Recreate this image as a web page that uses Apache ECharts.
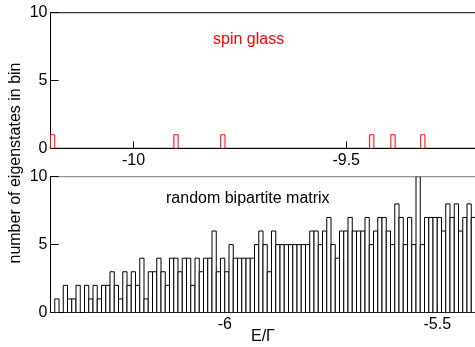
<!DOCTYPE html>
<html>
<head>
<meta charset="utf-8">
<title>eigenstate histograms</title>
<script src="https://cdn.jsdelivr.net/npm/echarts@6/dist/echarts.min.js"></script>
<style>
  html, body { margin: 0; padding: 0; background: #fff; }
  #chart { width: 475px; height: 347px; }
</style>
</head>
<body>
<div id="chart"></div>
<script>
// bin width used by both histograms
const binWidth = 0.01;

// spin glass: left edges of the occupied bins and their counts
const spinGlassEdges = [-10.195, -9.905, -9.795, -9.445, -9.395, -9.325];
const spinGlassCounts = [1, 1, 1, 1, 1, 1];

// random bipartite matrix: counts per bin starting at bipartiteStart
const bipartiteStart = -6.41;
const bipartiteCounts = [
  0, 1, 0, 2, 1, 1, 2, 0, 2, 1,
  2, 1, 2, 2, 3, 2, 1, 3, 2, 3,
  2, 4, 1, 3, 3, 4, 3, 2, 4, 4,
  3, 4, 4, 2, 4, 3, 4, 4, 6, 3,
  4, 3, 5, 4, 4, 4, 4, 4, 5, 6,
  5, 3, 6, 5, 5, 5, 5, 5, 5, 5,
  5, 6, 6, 5, 6, 7, 5, 4, 6, 6,
  7, 6, 6, 6, 7, 5, 6, 7, 7, 6,
  5, 8, 7, 5, 7, 5, 10, 5, 7, 7,
  7, 7, 6, 8, 7, 8, 6, 7, 8, 7
];

const topTicks = [-10, -9.5];
const bottomTicks = [-6, -5.5];

const font = "'Liberation Sans', Arial, Helvetica, sans-serif";

const spinData = spinGlassEdges.map((x, i) => [x, x + binWidth, spinGlassCounts[i]]);
const bipartiteData = bipartiteCounts.map((c, i) => {
  const x0 = bipartiteStart + i * binWidth;
  return [x0, x0 + binWidth, c];
});

function histRender(stroke) {
  return function (params, api) {
    const p0 = api.coord([api.value(0), 0]);
    const p1 = api.coord([api.value(1), api.value(2)]);
    return {
      type: "rect",
      shape: { x: p0[0], y: p1[1], width: p1[0] - p0[0], height: p0[1] - p1[1] },
      style: { fill: "#fff", stroke: stroke, lineWidth: 1 },
    };
  };
}

function xAxisFor(gridIndex, min, max, ticks) {
  return {
    type: "value",
    gridIndex,
    min,
    max,
    axisLine: { show: true, onZero: false, lineStyle: { color: "#000", width: 1 } },
    axisTick: { show: true, inside: true, length: 7, customValues: ticks, lineStyle: { color: "#000" } },
    axisLabel: { customValues: ticks, color: "#000", fontFamily: font, fontSize: 16, margin: 4 },
    splitLine: { show: false },
  };
}

function yAxisFor(gridIndex) {
  return {
    type: "value",
    gridIndex,
    min: 0,
    max: 10,
    interval: 5,
    axisLine: { show: true, lineStyle: { color: "#000", width: 1 } },
    axisTick: { show: true, inside: true, length: 8, lineStyle: { color: "#000" } },
    axisLabel: { color: "#000", fontFamily: font, fontSize: 16, margin: 3 },
    splitLine: { show: false },
  };
}

const chart = echarts.init(document.getElementById("chart"), null, { renderer: "canvas" });
chart.setOption({
  animation: false,
  backgroundColor: "#fff",
  grid: [
    {
      left: 50.5, top: 12.7, width: 430, height: 135.6,
      outerBoundsMode: "none", containLabel: false,
      show: true, borderColor: "#000", borderWidth: 1, backgroundColor: "transparent",
    },
    {
      left: 50.5, top: 176.7, width: 430, height: 135.8,
      outerBoundsMode: "none", containLabel: false,
      show: true, borderColor: "#777", borderWidth: 1, backgroundColor: "transparent",
    },
  ],
  xAxis: [
    xAxisFor(0, -10.195, -10.195 + 430 / 425.5, topTicks),
    xAxisFor(1, bipartiteStart, bipartiteStart + 430 / 425, bottomTicks),
  ],
  yAxis: [yAxisFor(0), yAxisFor(1)],
  series: [
    {
      type: "custom",
      xAxisIndex: 0,
      yAxisIndex: 0,
      renderItem: histRender("#ff0000"),
      data: spinData,
      clip: true,
    },
    {
      type: "custom",
      xAxisIndex: 1,
      yAxisIndex: 1,
      renderItem: histRender("#000"),
      data: bipartiteData,
      clip: true,
    },
  ],
  graphic: [
    {
      type: "text", left: 213, top: 32,
      style: { text: "spin glass", fill: "#ff0000", font: "16px " + font },
    },
    {
      type: "text", left: 166, top: 191,
      style: { text: "random bipartite matrix", fill: "#000", font: "16px " + font },
    },
    {
      type: "text", left: 251, top: 329,
      style: { text: "E/Γ", fill: "#000", font: "16px " + font },
    },
    {
      type: "text",
      x: 16, y: 163,
      rotation: Math.PI / 2,
      style: { text: "number of eigenstates in bin", fill: "#000", font: "16px " + font, align: "center", verticalAlign: "middle" },
    },
  ],
});
</script>
</body>
</html>
